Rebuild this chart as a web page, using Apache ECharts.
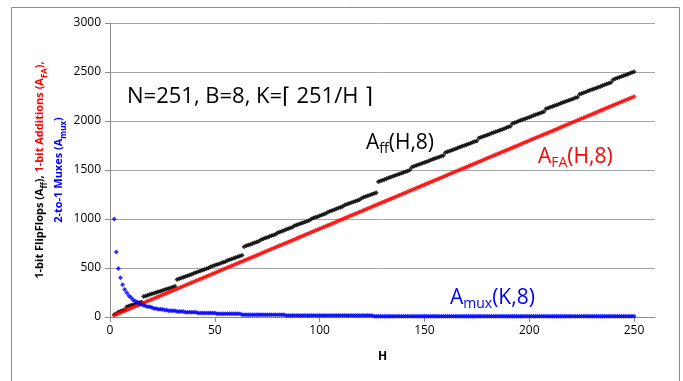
<!DOCTYPE html>
<html>
<head>
<meta charset="utf-8">
<script src="https://cdn.jsdelivr.net/npm/echarts@6/dist/echarts.min.js"></script>
<style>html,body{margin:0;padding:0;background:#fff;}#c{width:683px;height:381px;}</style>
</head>
<body>
<div id="c"></div>
<script>
// H values (x axis)
const H = [
  2,3,4,5,6,7,8,9,
  10,11,12,13,14,15,16,17,18,19,
  20,21,22,23,24,25,26,27,28,29,
  30,31,32,33,34,35,36,37,38,39,
  40,41,42,43,44,45,46,47,48,49,
  50,51,52,53,54,55,56,57,58,59,
  60,61,62,63,64,65,66,67,68,69,
  70,71,72,73,74,75,76,77,78,79,
  80,81,82,83,84,85,86,87,88,89,
  90,91,92,93,94,95,96,97,98,99,
  100,101,102,103,104,105,106,107,108,109,
  110,111,112,113,114,115,116,117,118,119,
  120,121,122,123,124,125,126,127,128,129,
  130,131,132,133,134,135,136,137,138,139,
  140,141,142,143,144,145,146,147,148,149,
  150,151,152,153,154,155,156,157,158,159,
  160,161,162,163,164,165,166,167,168,169,
  170,171,172,173,174,175,176,177,178,179,
  180,181,182,183,184,185,186,187,188,189,
  190,191,192,193,194,195,196,197,198,199,
  200,201,202,203,204,205,206,207,208,209,
  210,211,212,213,214,215,216,217,218,219,
  220,221,222,223,224,225,226,227,228,229,
  230,231,232,233,234,235,236,237,238,239,
  240,241,242,243,244,245,246,247,248,249,
  250
];
// A_ff(H,8): 1-bit flip-flops (black)
const Aff = [
  26,33,52,59,66,73,105,112,
  119,126,132,139,146,153,208,215,222,229,
  236,243,250,257,264,271,278,285,292,299,
  306,313,382,390,398,405,412,420,428,435,
  447,455,463,470,477,485,493,500,512,520,
  528,535,542,550,558,565,577,585,593,600,
  607,615,623,630,718,726,734,741,750,758,
  766,773,789,797,805,812,821,829,837,844,
  860,868,876,883,892,900,908,915,930,938,
  946,953,962,970,978,985,1001,1009,1017,1024,
  1033,1041,1049,1056,1072,1080,1087,1095,1104,1112,
  1119,1127,1142,1150,1158,1165,1174,1182,1190,1197,
  1213,1221,1229,1236,1245,1253,1261,1268,1380,1388,
  1396,1404,1412,1420,1428,1436,1444,1452,1460,1467,
  1475,1483,1491,1499,1529,1537,1545,1553,1561,1569,
  1577,1585,1593,1601,1609,1617,1625,1633,1641,1648,
  1678,1686,1694,1702,1710,1718,1726,1734,1742,1750,
  1758,1766,1774,1782,1790,1797,1826,1834,1842,1850,
  1858,1866,1874,1882,1890,1898,1906,1914,1922,1930,
  1938,1946,1975,1983,1991,1999,2007,2015,2023,2031,
  2039,2047,2055,2063,2071,2079,2087,2095,2124,2132,
  2140,2148,2156,2164,2172,2180,2188,2196,2204,2212,
  2220,2228,2236,2243,2273,2281,2289,2297,2305,2313,
  2321,2329,2337,2345,2353,2361,2369,2377,2385,2392,
  2422,2430,2438,2446,2454,2462,2470,2478,2486,2494,
  2502
];
// A_FA(H,8): 1-bit additions (red)
const AFA = [
  18,27,36,45,54,63,72,81,
  90,99,108,117,126,135,144,153,162,171,
  180,189,198,207,216,225,234,243,252,261,
  270,279,288,297,306,315,324,333,342,351,
  360,369,378,387,396,405,414,423,432,441,
  450,459,468,477,486,495,504,513,522,531,
  540,549,558,567,576,585,594,603,612,621,
  630,639,648,657,666,675,684,693,702,711,
  720,729,738,747,756,765,774,783,792,801,
  810,819,828,837,846,855,864,873,882,891,
  900,909,918,927,936,945,954,963,972,981,
  990,999,1008,1017,1026,1035,1044,1053,1062,1071,
  1080,1089,1098,1107,1116,1125,1134,1143,1152,1161,
  1170,1179,1188,1197,1206,1215,1224,1233,1242,1251,
  1260,1269,1278,1287,1296,1305,1314,1323,1332,1341,
  1350,1359,1368,1377,1386,1395,1404,1413,1422,1431,
  1440,1449,1458,1467,1476,1485,1494,1503,1512,1521,
  1530,1539,1548,1557,1566,1575,1584,1593,1602,1611,
  1620,1629,1638,1647,1656,1665,1674,1683,1692,1701,
  1710,1719,1728,1737,1746,1755,1764,1773,1782,1791,
  1800,1809,1818,1827,1836,1845,1854,1863,1872,1881,
  1890,1899,1908,1917,1926,1935,1944,1953,1962,1971,
  1980,1989,1998,2007,2016,2025,2034,2043,2052,2061,
  2070,2079,2088,2097,2106,2115,2124,2133,2142,2151,
  2160,2169,2178,2187,2196,2205,2214,2223,2232,2241,
  2250
];
// A_mux(K,8): 2-to-1 muxes (blue)
const Amux = [
  1000,664,496,400,328,280,248,216,
  200,176,160,152,136,128,120,112,104,104,
  96,88,88,80,80,80,72,72,64,64,
  64,64,56,56,56,56,48,48,48,48,
  48,48,40,40,40,40,40,40,40,40,
  40,32,32,32,32,32,32,32,32,32,
  32,32,32,24,24,24,24,24,24,24,
  24,24,24,24,24,24,24,24,24,24,
  24,24,24,24,16,16,16,16,16,16,
  16,16,16,16,16,16,16,16,16,16,
  16,16,16,16,16,16,16,16,16,16,
  16,16,16,16,16,16,16,16,16,16,
  16,16,16,16,16,16,8,8,8,8,
  8,8,8,8,8,8,8,8,8,8,
  8,8,8,8,8,8,8,8,8,8,
  8,8,8,8,8,8,8,8,8,8,
  8,8,8,8,8,8,8,8,8,8,
  8,8,8,8,8,8,8,8,8,8,
  8,8,8,8,8,8,8,8,8,8,
  8,8,8,8,8,8,8,8,8,8,
  8,8,8,8,8,8,8,8,8,8,
  8,8,8,8,8,8,8,8,8,8,
  8,8,8,8,8,8,8,8,8,8,
  8,8,8,8,8,8,8,8,8,8,
  8,8,8,8,8,8,8,8,8,8,
  8
];
const xTicks = [0, 50, 100, 150, 200, 250];
const xName = 'H';
const note = 'N=251, B=8, K=⌈ 251/H ⌉';

const FONT = "'Open Sans', 'Noto Sans', 'DejaVu Sans', sans-serif";
const pairs = (ys) => H.map((h, i) => [h, ys[i]]);

const chart = echarts.init(document.getElementById('c'), null, {renderer: 'canvas'});
const gray = '#8c8c8c';
const sub = (c, size) => ({fill: c, fontFamily: FONT, fontSize: size, verticalAlign: 'bottom', lineHeight: 13});
const main = (c, size, lh) => ({fill: c, fontFamily: FONT, fontSize: size, lineHeight: lh});
const tb = (c) => ({fill: c, fontFamily: FONT, fontSize: 11, fontWeight: 'bold', lineHeight: 19, align: 'center'});
const ts = (c) => ({fill: c, fontFamily: FONT, fontSize: 8, fontWeight: 'bold', lineHeight: 15, verticalAlign: 'bottom', align: 'center'});

chart.setOption({
  animation: false,
  backgroundColor: '#fff',
  grid: {left: 110, right: 28, top: 23, bottom: 64},
  xAxis: {
    type: 'value', min: 0, max: 260, interval: 50,
    axisLine: {show: true, lineStyle: {color: gray, width: 1}},
    axisTick: {show: true, length: 5, lineStyle: {color: gray}, customValues: xTicks},
    axisLabel: {color: '#000', fontSize: 12, fontFamily: FONT, margin: 8, customValues: xTicks},
    splitLine: {show: false},
    name: xName, nameLocation: 'middle', nameGap: 34,
    nameTextStyle: {color: '#000', fontSize: 12, fontWeight: 'bold', fontFamily: FONT}
  },
  yAxis: {
    type: 'value', min: 0, max: 3000, interval: 500,
    axisLine: {show: true, lineStyle: {color: gray, width: 1}},
    axisTick: {show: true, length: 5, lineStyle: {color: gray}},
    axisLabel: {color: '#000', fontSize: 12, fontFamily: FONT, margin: 9, formatter: (v) => String(v)},
    splitLine: {show: true, lineStyle: {color: '#a6a6a6', width: 1}}
  },
  series: [
    {type: 'scatter', name: 'Aff', data: pairs(Aff), symbol: 'diamond', symbolSize: 5,
      itemStyle: {color: '#000'}, z: 2},
    {type: 'scatter', name: 'AFA', data: pairs(AFA), symbol: 'diamond', symbolSize: 5,
      itemStyle: {color: '#ff0000'}, z: 3},
    {type: 'scatter', name: 'Amux', data: pairs(Amux), symbol: 'diamond', symbolSize: 5,
      itemStyle: {color: '#0000ff'}, z: 4}
  ],
  graphic: [
    {type: 'rect', silent: true, z: -10,
      shape: {x: 11.5, y: 7.5, width: 668, height: 420},
      style: {fill: null, stroke: '#8c8c8c', lineWidth: 1}},
    {type: 'text', x: 49, y: 170, rotation: Math.PI / 2,
      style: {
        text: '{b|1-bit FlipFlops (A}{bs|ff}{b|), }{r|1-bit Additions (A}{rs|FA}{r|),}\n{u|2-to-1 Muxes (A}{us|mux}{u|)}',
        align: 'center', verticalAlign: 'middle',
        rich: {b: tb('#000'), bs: ts('#000'), r: tb('#ff0000'), rs: ts('#ff0000'), u: tb('#0000ff'), us: ts('#0000ff')}
      }},
    {type: 'text', x: 127, y: 97,
      style: {text: note, fill: '#000', font: "22px " + FONT, align: 'left', verticalAlign: 'middle'}},
    {type: 'text', x: 366, y: 143,
      style: {text: '{a|A}{s|ff}{a|(H,8)}', align: 'left', verticalAlign: 'middle',
        rich: {a: main('#000', 21, 26), s: sub('#000', 14)}}},
    {type: 'text', x: 538, y: 157,
      style: {text: '{a|A}{s|FA}{a|(H,8)}', align: 'left', verticalAlign: 'middle',
        rich: {a: main('#ff0000', 21, 26), s: sub('#ff0000', 14)}}},
    {type: 'text', x: 450, y: 298,
      style: {text: '{a|A}{s|mux}{a|(K,8)}', align: 'left', verticalAlign: 'middle',
        rich: {a: main('#0000ff', 21, 26), s: sub('#0000ff', 14)}}}
  ]
});
</script>
</body>
</html>
